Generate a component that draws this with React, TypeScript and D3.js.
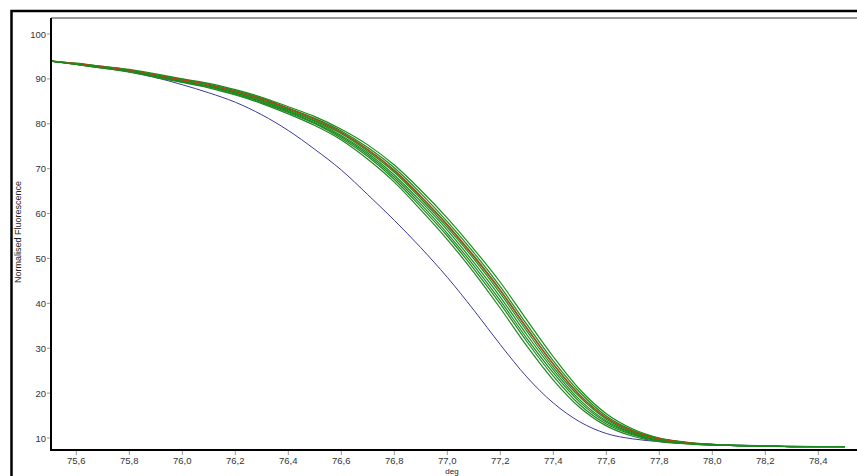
import React, { useEffect, useRef } from 'react';
import * as d3 from 'd3';

// temperature grid (deg) shared by all traces
const temps = [
  75.5, 75.6, 75.7, 75.8, 75.9, 76.0, 76.1, 76.2, 76.3, 76.4, 76.5,
  76.6, 76.7, 76.8, 76.9, 77.0, 77.1, 77.2, 77.3, 77.4, 77.5,
  77.6, 77.7, 77.8, 77.9, 78.0, 78.1, 78.2, 78.3, 78.4, 78.5,
];

// reference sample (blue)
const blueTrace = [
  94.0, 93.3, 92.5, 91.6, 90.3, 88.7, 86.9, 84.8, 82.0, 78.5, 74.3,
  69.7, 64.2, 58.5, 52.4, 45.8, 38.5, 30.8, 23.6, 17.8, 13.6,
  11.0, 9.8, 9.2, 8.8, 8.6, 8.4, 8.3, 8.2, 8.1, 8.1,
];

// samples (green)
const green1 = [
  94.0, 93.5, 92.8, 92.1, 91.1, 90.0, 89.0, 87.6, 85.9, 83.8, 81.6,
  78.8, 75.3, 70.8, 65.2, 59.0, 52.1, 44.7, 36.3, 28.1, 20.8,
  15.4, 12.0, 10.0, 9.1, 8.6, 8.4, 8.2, 8.1, 8.1, 8.1,
];
const green2 = [
  94.0, 93.4, 92.8, 92.0, 90.9, 89.9, 88.8, 87.4, 85.7, 83.5, 81.2,
  78.4, 74.7, 70.2, 64.5, 58.2, 51.3, 43.7, 35.3, 27.2, 20.2,
  14.9, 11.7, 9.9, 9.0, 8.6, 8.3, 8.2, 8.1, 8.1, 8.1,
];
const green3 = [
  94.0, 93.4, 92.7, 91.9, 90.8, 89.8, 88.7, 87.2, 85.5, 83.3, 81.0,
  78.1, 74.3, 69.7, 63.9, 57.6, 50.6, 43.0, 34.6, 26.5, 19.6,
  14.5, 11.5, 9.8, 9.0, 8.5, 8.3, 8.2, 8.1, 8.1, 8.1,
];
const green4 = [
  94.0, 93.3, 92.6, 91.8, 90.7, 89.7, 88.6, 87.1, 85.3, 83.1, 80.7,
  77.8, 73.9, 69.2, 63.3, 56.9, 49.9, 42.2, 33.8, 25.8, 19.1,
  14.2, 11.3, 9.7, 8.9, 8.5, 8.3, 8.2, 8.1, 8.1, 8.1,
];
const green5 = [
  94.0, 93.3, 92.6, 91.8, 90.7, 89.5, 88.4, 86.9, 85.1, 82.9, 80.5,
  77.4, 73.5, 68.6, 62.7, 56.3, 49.1, 41.4, 33.0, 25.2, 18.5,
  13.8, 11.1, 9.5, 8.9, 8.5, 8.3, 8.2, 8.1, 8.1, 8.1,
];
const green6 = [
  94.0, 93.2, 92.5, 91.7, 90.6, 89.4, 88.3, 86.8, 84.9, 82.7, 80.2,
  77.1, 73.1, 68.1, 62.1, 55.6, 48.4, 40.6, 32.2, 24.5, 18.0,
  13.5, 10.9, 9.4, 8.8, 8.5, 8.3, 8.2, 8.1, 8.1, 8.1,
];
const green7 = [
  94.0, 93.2, 92.4, 91.6, 90.5, 89.3, 88.2, 86.6, 84.7, 82.5, 80.0,
  76.8, 72.7, 67.6, 61.5, 55.0, 47.7, 39.9, 31.5, 23.8, 17.4,
  13.1, 10.7, 9.3, 8.8, 8.4, 8.3, 8.2, 8.1, 8.1, 8.1,
];
const green8 = [
  94.0, 93.2, 92.4, 91.5, 90.3, 89.2, 88.0, 86.4, 84.5, 82.2, 79.6,
  76.4, 72.1, 67.0, 60.8, 54.2, 46.9, 38.9, 30.5, 22.9, 16.8,
  12.7, 10.4, 9.2, 8.7, 8.4, 8.3, 8.2, 8.1, 8.1, 8.1,
];

// highlighted sample (red), ends at 78.0
const redTrace = [
  94.0, 93.4, 92.7, 91.9, 90.8, 89.8, 88.7, 87.2, 85.5, 83.4, 81.0,
  78.0, 74.2, 69.5, 63.7, 57.4, 50.4, 42.8, 34.4, 26.4, 19.5,
  14.5, 11.5, 9.8, 9.0, 8.6,
];

const xTicks = [75.6, 75.8, 76.0, 76.2, 76.4, 76.6, 76.8, 77.0, 77.2, 77.4, 77.6, 77.8, 78.0, 78.2, 78.4];
const yTicks = [10, 20, 30, 40, 50, 60, 70, 80, 90, 100];

export default function App() {
  const svgRef = useRef<SVGSVGElement>(null);

  useEffect(() => {
    if (!svgRef.current) return;
    const svg = d3.select(svgRef.current);
    svg.selectAll('*').remove();

    const width = 857, height = 476;
    const plot = { left: 51, top: 18, right: 857, bottom: 450 };

    svg.attr('width', width).attr('height', height);
    svg.append('rect').attr('width', width).attr('height', height).attr('fill', '#fff');

    // outer frame
    svg.append('rect')
      .attr('x', 11.5).attr('y', 11)
      .attr('width', 870).attr('height', 490)
      .attr('fill', 'none').attr('stroke', '#000').attr('stroke-width', 2.5);

    const x = d3.scaleLinear().domain([75.6, 78.4]).range([76.3, 818.3]);
    const y = d3.scaleLinear().domain([10, 100]).range([438, 34]);

    svg.append('clipPath').attr('id', 'plotclip')
      .append('rect')
      .attr('x', plot.left).attr('y', plot.top)
      .attr('width', plot.right - plot.left).attr('height', plot.bottom - plot.top);

    const line = d3.line<number>()
      .x((_, i) => x(temps[i]))
      .y(d => y(d))
      .curve(d3.curveMonotoneX);

    const g = svg.append('g').attr('clip-path', 'url(#plotclip)');

    g.append('path').attr('d', line(blueTrace)).attr('fill', 'none')
      .attr('stroke', '#3b3b98').attr('stroke-width', 1);

    const greens = [green1, green2, green3, green4, green5, green6, green7, green8];
    greens.slice(0, 5).forEach(s => {
      g.append('path').attr('d', line(s)).attr('fill', 'none')
        .attr('stroke', '#1c8a1c').attr('stroke-width', 1.2);
    });
    g.append('path').attr('d', line(redTrace)).attr('fill', 'none')
      .attr('stroke', '#b8441a').attr('stroke-width', 1.2);
    greens.slice(5).forEach(s => {
      g.append('path').attr('d', line(s)).attr('fill', 'none')
        .attr('stroke', '#1c8a1c').attr('stroke-width', 1.2);
    });

    // top border of plot
    svg.append('line')
      .attr('x1', plot.left).attr('x2', plot.right)
      .attr('y1', plot.top).attr('y2', plot.top)
      .attr('stroke', '#777').attr('stroke-width', 1.5);

    // y axis
    const yAxis = svg.append('g');
    yAxis.append('line')
      .attr('x1', plot.left).attr('x2', plot.left)
      .attr('y1', plot.top).attr('y2', plot.bottom)
      .attr('stroke', '#000').attr('stroke-width', 2);
    yTicks.forEach(t => {
      yAxis.append('line')
        .attr('x1', plot.left - 4).attr('x2', plot.left - 1)
        .attr('y1', y(t)).attr('y2', y(t))
        .attr('stroke', '#999').attr('stroke-width', 1);
      yAxis.append('text')
        .attr('x', 46).attr('y', y(t) + 3.5)
        .attr('text-anchor', 'end')
        .attr('font-family', 'Arial, "Liberation Sans", sans-serif')
        .attr('font-size', 9.5).attr('fill', '#333')
        .text(t);
    });

    // x axis
    const xAxis = svg.append('g');
    xAxis.append('line')
      .attr('x1', plot.left - 1).attr('x2', plot.right)
      .attr('y1', plot.bottom).attr('y2', plot.bottom)
      .attr('stroke', '#000').attr('stroke-width', 2);
    xTicks.forEach(t => {
      xAxis.append('line')
        .attr('x1', x(t)).attr('x2', x(t))
        .attr('y1', plot.bottom + 1).attr('y2', plot.bottom + 5)
        .attr('stroke', '#999').attr('stroke-width', 1);
      xAxis.append('text')
        .attr('x', x(t)).attr('y', 464)
        .attr('text-anchor', 'middle')
        .attr('font-family', 'Arial, "Liberation Sans", sans-serif')
        .attr('font-size', 9.5).attr('fill', '#333')
        .text(t.toFixed(1).replace('.', ','));
    });

    svg.append('text')
      .attr('x', 452).attr('y', 474)
      .attr('text-anchor', 'middle')
      .attr('font-family', 'Arial, "Liberation Sans", sans-serif')
      .attr('font-size', 8).attr('fill', '#222')
      .text('deg');

    svg.append('text')
      .attr('transform', 'translate(21,232) rotate(-90)')
      .attr('text-anchor', 'middle')
      .attr('font-family', 'Arial, "Liberation Sans", sans-serif')
      .attr('font-size', 9).attr('fill', '#222')
      .text('Normalised Fluorescence');
  }, []);

  return (
    <div style={{ position: 'fixed', left: 0, top: 0, width: 857, height: 476, overflow: 'hidden' }}>
      <svg ref={svgRef} style={{ display: 'block' }}></svg>
    </div>
  );
}
